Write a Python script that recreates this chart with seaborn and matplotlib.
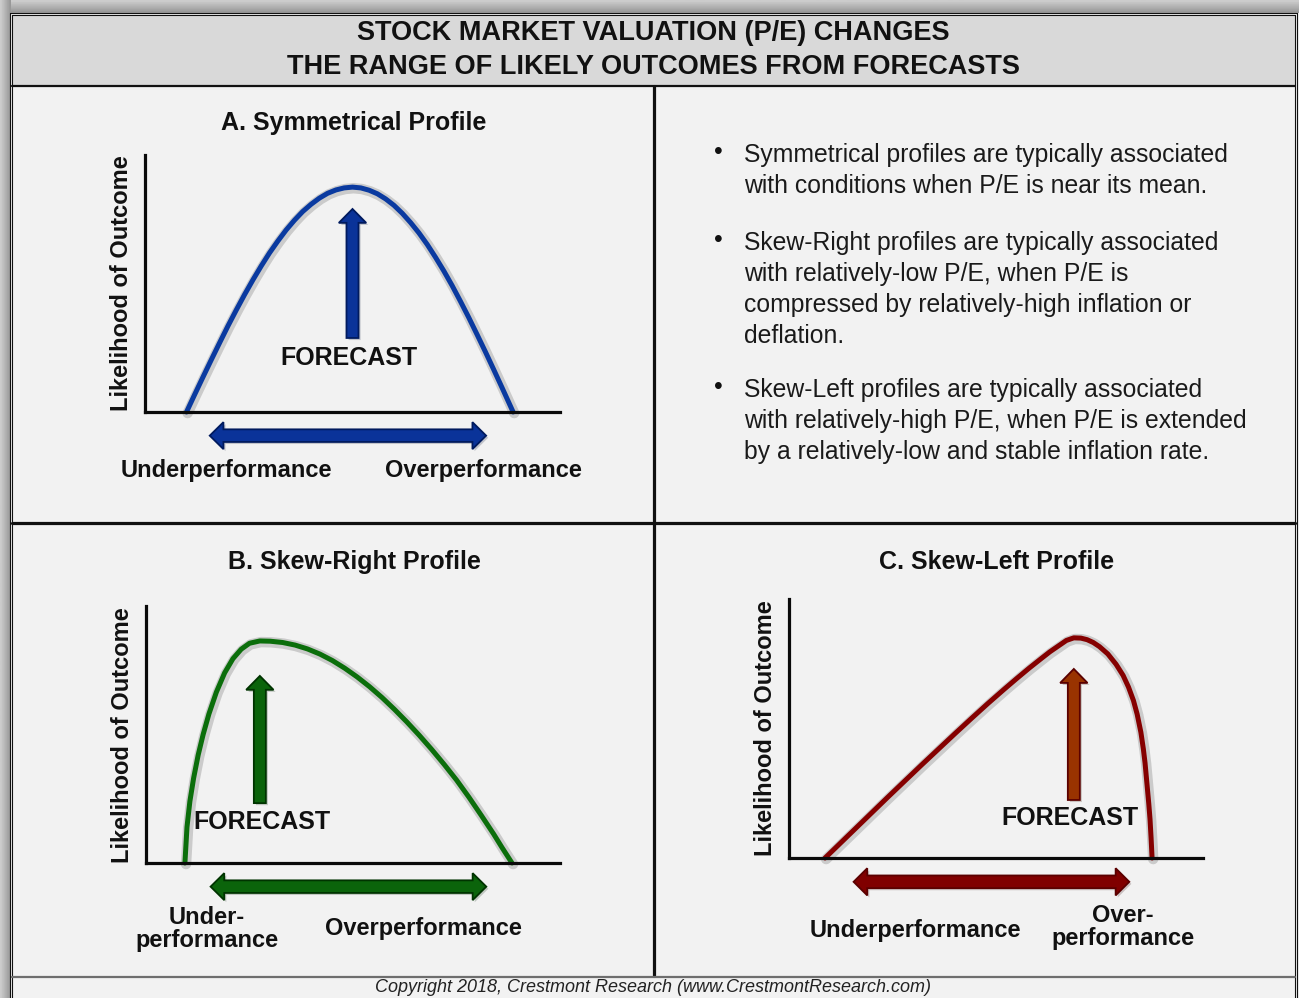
import numpy as np
import pandas as pd
import matplotlib.pyplot as plt
import seaborn as sns
from matplotlib.patches import Rectangle, Polygon, FancyArrow
import matplotlib.patheffects as pe

sns.set_style("white")
plt.rcParams['font.family'] = ['Liberation Sans', 'DejaVu Sans']

# --- curve data (performance vs likelihood, 0-100 units) ---
sym_x = [10, 12, 14, 16, 18, 20, 22, 24, 26, 28, 30, 32, 34, 36, 38, 40, 42, 44, 46, 48, 50,
         52, 54, 56, 58, 60, 62, 64, 66, 68, 70, 72, 74, 76, 78, 80, 82, 84, 86, 88.7]
sym_y = [0, 6.9, 13.7, 20.4, 27.0, 33.5, 39.7, 45.7, 51.4, 56.8, 61.9, 66.5, 70.8, 74.6, 78.0,
         80.8, 83.2, 85.1, 86.4, 87.2, 87.5, 87.2, 86.3, 84.9, 82.9, 80.4, 77.3, 73.7, 69.7,
         65.2, 60.2, 54.9, 49.2, 43.1, 36.8, 30.2, 23.5, 16.6, 9.6, 0]

skr_x = [9.4, 9.9, 10.6, 11.5, 12.6, 13.8, 15.2, 17.0, 19.0, 21.0, 23.0, 25.0, 27.5, 30, 33, 36,
         39, 42, 45, 48, 51, 54, 57, 60, 63, 66, 69, 72, 75, 78, 81, 84, 86, 88.4]
skr_y = [0, 14, 24, 33, 42, 50, 58, 66.5, 74, 79.5, 83.2, 85.5, 86.4, 86.3, 85.8, 84.8,
         83.3, 81.3, 78.8, 75.8, 72.4, 68.6, 64.4, 59.8, 54.9, 49.7, 44.2, 38.4, 32.3, 25.6,
         18.5, 11.2, 6.0, 0]

skl_x = [8.7, 12, 16, 20, 24, 28, 32, 36, 40, 44, 48, 52, 55, 58, 61, 63, 65, 67, 68.8, 70.5,
         72, 73.5, 75, 77, 79, 80.7, 82, 83.2, 84.1, 85, 85.6, 86.0, 86.5, 86.9, 87.2, 87.45, 87.7]
skl_y = [0, 5.1, 11.3, 17.5, 23.7, 29.8, 35.9, 41.9, 47.9, 53.8, 59.6, 65.2, 69.3, 73.3, 77.1,
         79.6, 81.8, 84.0, 85.0, 84.9, 84.3, 83.2, 81.6, 78.8, 74.8, 70.5, 66.0, 60.8, 55.5,
         48.5, 42.0, 36.7, 28.0, 21.0, 15.0, 8.0, 0]

panel_titles = ["A. Symmetrical Profile", "B. Skew-Right Profile", "C. Skew-Left Profile"]
title_lines = ["STOCK MARKET VALUATION (P/E) CHANGES", "THE RANGE OF LIKELY OUTCOMES FROM FORECASTS"]
ylabel = "Likelihood of Outcome"
footer = "Copyright 2018, Crestmont Research (www.CrestmontResearch.com)"

bullets = [
    ["Symmetrical profiles are typically associated",
     "with conditions when P/E is near its mean."],
    ["Skew-Right profiles are typically associated",
     "with relatively-low P/E, when P/E is",
     "compressed by relatively-high inflation or",
     "deflation."],
    ["Skew-Left profiles are typically associated",
     "with relatively-high P/E, when P/E is extended",
     "by a relatively-low and stable inflation rate."],
]

W, H = 1299, 998
fig = plt.figure(figsize=(W / 100, H / 100), dpi=100, facecolor='#f2f2f2')

# background / frame axes in pixel coords
bg = fig.add_axes([0, 0, 1, 1])
bg.set_xlim(0, W)
bg.set_ylim(H, 0)
bg.axis('off')
bg.set_facecolor('#f2f2f2')

# drop shadow of the frame
shade = [[0.80], [0.76], [0.72], [0.68], [0.64], [0.60]]
bg.imshow(shade, cmap='gray', vmin=0, vmax=1, extent=(0, W, 13, 0), aspect='auto')
bg.imshow(np.array(shade).T, cmap='gray', vmin=0, vmax=1, extent=(0, 10.5, H, 0), aspect='auto')

# title band
bg.add_patch(Rectangle((12.5, 15), 1283, 70, fc='#d9d9d9', ec='none'))
# double outer border
for off in (0, 2):
    bg.plot([10.5 + off, 10.5 + off], [13 + off, H], color='#111111', lw=0.8)
    bg.plot([1297 - off, 1297 - off], [13 + off, H], color='#111111', lw=0.8)
    bg.plot([10.5 + off, 1297 - off], [13 + off, 13 + off], color='#111111', lw=0.8)
# dividers
bg.plot([12.5, 1295], [85.5, 85.5], color='#111111', lw=1.6)
bg.plot([654, 654], [86, 976], color='#111111', lw=2.3)
bg.plot([12.5, 1295], [523, 523], color='#111111', lw=2.3)
bg.plot([12.5, 1295], [976.5, 976.5], color='#6e6e6e', lw=1.6)

# main title
bg.text(653, 33, title_lines[0], ha='center', va='center', fontsize=19.5, fontweight='bold', color='#111111')
bg.text(653, 67, title_lines[1], ha='center', va='center', fontsize=19.5, fontweight='bold', color='#111111')

# panel titles
bg.text(354, 123, panel_titles[0], ha='center', va='center', fontsize=18, fontweight='bold', color='#111111')
bg.text(354, 562, panel_titles[1], ha='center', va='center', fontsize=18, fontweight='bold', color='#111111')
bg.text(997, 562, panel_titles[2], ha='center', va='center', fontsize=18, fontweight='bold', color='#111111')

# bullet text
y0s = [155, 243, 390]
for lines, y0 in zip(bullets, y0s):
    bg.text(718, y0 - 3, "\u2022", ha='center', va='center', fontsize=18, color='#111111')
    for i, line in enumerate(lines):
        bg.text(744, y0 + i * 31, line, ha='left', va='center', fontsize=17.8, color='#1a1a1a')

bg.text(653, 988, footer, ha='center', va='center', fontsize=13, style='italic', color='#222222')


def panel(left, right, top, bottom):
    return fig.add_axes([left / W, 1 - bottom / H, (right - left) / W, (bottom - top) / H])


def double_arrow(ax, x0, x1, y, shaft, head_w, head_l, fc, ec):
    hs, hw = shaft / 2, head_w / 2
    verts = [(x0, y), (x0 + head_l, y + hw), (x0 + head_l, y + hs), (x1 - head_l, y + hs),
             (x1 - head_l, y + hw), (x1, y), (x1 - head_l, y - hw), (x1 - head_l, y - hs),
             (x0 + head_l, y - hs), (x0 + head_l, y - hw)]
    ax.add_patch(Polygon(verts, closed=True, fc=fc, ec=ec, lw=1.3, clip_on=False, zorder=3,
                         path_effects=[pe.withSimplePatchShadow(offset=(1.5, -1.5), alpha=0.2)]))


def draw_profile(ax, xs, ys, curve_c, arrow_fc, arrow_ec, span_fc, arrow_lo, arrow_hi):
    ax.set_facecolor('none')
    ax.set_xlim(0, 100)
    ax.set_ylim(0, 100)
    sns.lineplot(x=xs, y=ys, ax=ax, color=curve_c, lw=3.6, sort=False, estimator=None,
                 solid_capstyle='round', solid_joinstyle='round', clip_on=False,
                 path_effects=[pe.SimpleLineShadow(offset=(0.8, -0.8), alpha=0.16, shadow_color='k',
                                                   linewidth=7.5),
                               pe.Normal()])
    ax.set_xticks([])
    ax.set_yticks([])
    ax.set_xlabel('')
    ax.set_ylabel('')
    for s in ['top', 'right']:
        ax.spines[s].set_visible(False)
    for s in ['left', 'bottom']:
        ax.spines[s].set_linewidth(2.3)
        ax.spines[s].set_color('#0a0a0a')
    # forecast arrow at the most likely outcome
    peak = xs[int(np.argmax(ys))]
    ax.add_patch(FancyArrow(peak, arrow_lo, 0, arrow_hi - arrow_lo, width=2.9, head_width=6.6,
                            head_length=5.4, length_includes_head=True, fc=arrow_fc, ec=arrow_ec,
                            lw=1.3, zorder=3,
                            path_effects=[pe.withSimplePatchShadow(offset=(1.5, -1.5), alpha=0.2)]))
    double_arrow(ax, 15.6, 82.2, -9.2, 4.9, 10.5, 3.3, span_fc, arrow_ec)


axA = panel(145, 560, 155, 412)
draw_profile(axA, sym_x, sym_y, '#0a3aa0', '#0a3399', '#001a5e', '#0a3399', 28.8, 79.0)
axB = panel(146, 560, 606, 863)
draw_profile(axB, skr_x, skr_y, '#0b6e0b', '#0b640b', '#003300', '#0b640b', 23.3, 72.8)
axC = panel(789, 1203, 599, 858)
draw_profile(axC, skl_x, skl_y, '#850000', '#993300', '#5a0000', '#800000', 22.4, 73.0)

# panel text
bold = dict(ha='center', va='center', fontweight='bold', color='#111111')
for cx, cy in [(122, 283), (123, 735), (766, 728)]:
    bg.text(cx, cy, ylabel, rotation=90, fontsize=17, **bold)
bg.text(349, 358, "FORECAST", fontsize=18, **bold)
bg.text(262, 822, "FORECAST", fontsize=18, **bold)
bg.text(1070, 818, "FORECAST", fontsize=18, **bold)

bg.text(226, 470, "Underperformance", fontsize=17, **bold)
bg.text(483, 470, "Overperformance", fontsize=17, **bold)
bg.text(207, 929, "Under-\nperformance", fontsize=17, linespacing=1.05, **bold)
bg.text(423, 929, "Overperformance", fontsize=17, **bold)
bg.text(915, 930, "Underperformance", fontsize=17, **bold)
bg.text(1123, 927, "Over-\nperformance", fontsize=17, linespacing=1.05, **bold)

fig.savefig("out.png", dpi=100, facecolor=fig.get_facecolor())
